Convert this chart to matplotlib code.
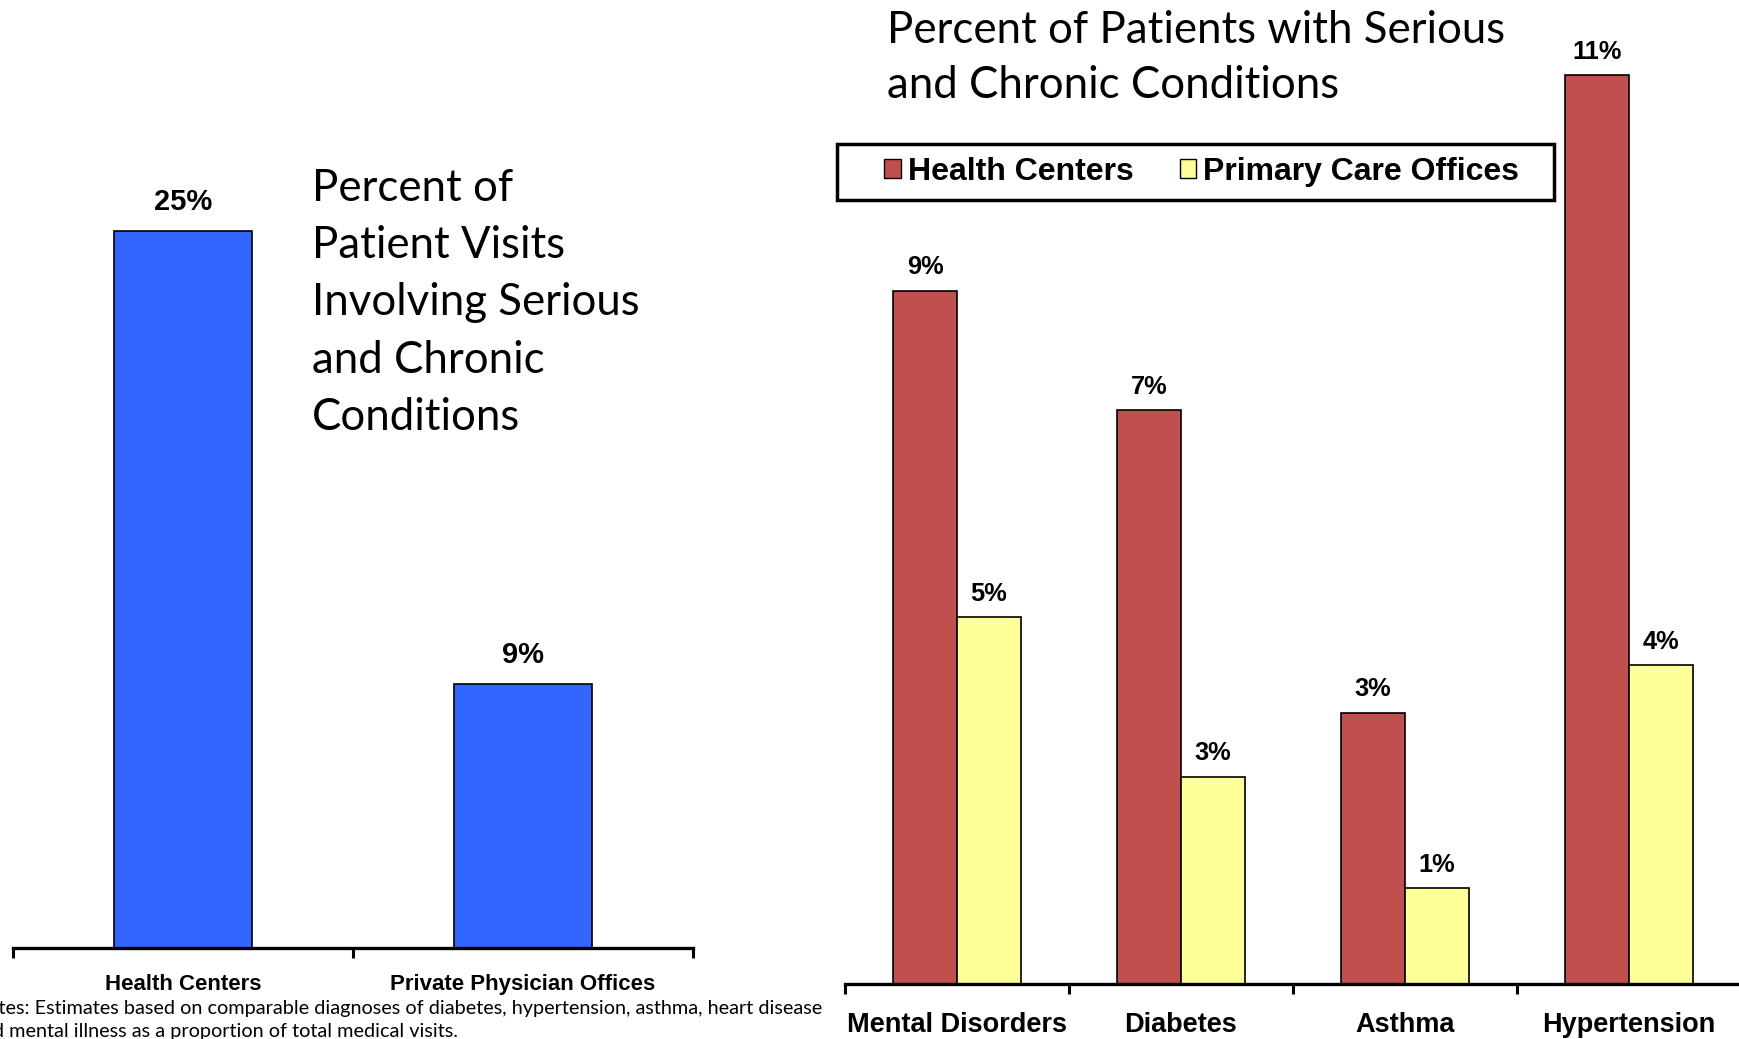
import matplotlib
matplotlib.use("Agg")
import matplotlib.pyplot as plt
from matplotlib.patches import Patch, Rectangle

# left panel: share of visits
visit_cats = ["Health Centers", "Private Physician Offices"]
visit_pct = [25.0, 9.2]

# right panel: share of patients by condition
cond_cats = ["Mental Disorders", "Diabetes", "Asthma", "Hypertension"]
hc_pct = [8.7, 7.2, 3.4, 11.4]
pc_pct = [4.6, 2.6, 1.2, 4.0]
series_names = ["Health Centers", "Primary Care Offices"]

BLUE = "#3366FF"
RED = "#C0504D"
YELLOW = "#FFFF99"
TITLE_FONT = ["Lato", "DejaVu Sans"]
BOLD_FONT = ["Liberation Sans", "DejaVu Sans"]

W, H = 1739, 1039
fig = plt.figure(figsize=(W / 100, H / 100), dpi=100)


def px_axes(x0, x1, y_top, y_bot):
    return fig.add_axes([x0 / W, 1 - y_bot / H, (x1 - x0) / W, (y_bot - y_top) / H])


def style_axis(ax, n, pad):
    for s in ["top", "right", "left"]:
        ax.spines[s].set_visible(False)
    ax.spines["bottom"].set_linewidth(2.4)
    ax.set_yticks([])
    ax.set_xlim(-0.5, n - 0.5)
    ax.set_xticks([i - 0.5 for i in range(n + 1)])
    ax.set_xticklabels([])
    ax.tick_params(axis="x", which="major", direction="out", length=7, width=2.2)
    ax.tick_params(axis="x", which="minor", length=0, pad=pad)


# ---- left chart ----
ax1 = px_axes(13, 693, 100, 948)
ax1.bar(range(len(visit_cats)), visit_pct, width=0.405, color=BLUE,
        edgecolor="black", linewidth=1.2)
ax1.set_ylim(0, 848 / (717 / 25))
style_axis(ax1, len(visit_cats), pad=19)
ax1.set_xticks(range(len(visit_cats)), minor=True)
ax1.set_xticklabels(visit_cats, minor=True, family=BOLD_FONT, fontweight="bold", fontsize=16)
for i, v in enumerate(visit_pct):
    ax1.annotate(f"{v:.0f}%", (i, v), xytext=(0, 21), textcoords="offset points",
                 ha="center", va="center", family=BOLD_FONT, fontweight="bold", fontsize=21)

# ---- right chart ----
ax2 = px_axes(845, 1741, 0, 984)
w = 0.285
xs = range(len(cond_cats))
b1 = ax2.bar([x - w / 2 for x in xs], hc_pct, width=w, color=RED, edgecolor="black", linewidth=1.2)
b2 = ax2.bar([x + w / 2 for x in xs], pc_pct, width=w, color=YELLOW, edgecolor="black", linewidth=1.2)
ax2.set_ylim(0, 984 / 79.7)
style_axis(ax2, len(cond_cats), pad=20.5)
ax2.set_xticks(list(xs), minor=True)
ax2.set_xticklabels(cond_cats, minor=True, family=BOLD_FONT, fontweight="bold", fontsize=19.5)
for vals, off in [(hc_pct, -w / 2), (pc_pct, w / 2)]:
    for i, v in enumerate(vals):
        ax2.annotate(f"{v:.0f}%", (i + off, v), xytext=(0, 17), textcoords="offset points",
                     ha="center", va="center", family=BOLD_FONT, fontweight="bold", fontsize=18.3)

# legend: entries without frame, box drawn separately to match the slide
handles = [Patch(facecolor=RED, edgecolor="black"), Patch(facecolor=YELLOW, edgecolor="black")]
leg = fig.legend(handles, series_names, loc="center left",
                 bbox_to_anchor=(884 / W, 1 - 172 / H), ncol=2, frameon=False,
                 handlelength=0.52, handleheight=0.52, handletextpad=0.22, columnspacing=1.45,
                 borderpad=0, borderaxespad=0,
                 prop={"family": BOLD_FONT, "weight": "bold", "size": 23})
fig.patches.append(Rectangle((837 / W, 1 - 200 / H), 717 / W, 56 / H, transform=fig.transFigure,
                             fill=False, edgecolor="black", linewidth=2.5))

# ---- titles and notes ----
fig.text(312 / W, 1 - 303 / H,
         "Percent of\nPatient Visits\nInvolving Serious\nand Chronic\nConditions",
         ha="left", va="center", family=TITLE_FONT, fontsize=31.5, linespacing=1.49)
fig.text(887 / W, 1 - 58 / H, "Percent of Patients with Serious\nand Chronic Conditions",
         ha="left", va="center", family=TITLE_FONT, fontsize=31.5, linespacing=1.42)
fig.text(-28 / W, 1 - 1020 / H,
         "Notes: Estimates based on comparable diagnoses of diabetes, hypertension, asthma, heart disease\n"
         "and mental illness as a proportion of total medical visits.",
         ha="left", va="center", family=TITLE_FONT, fontsize=14.3, linespacing=1.40)

fig.savefig("out.png", dpi=100)
